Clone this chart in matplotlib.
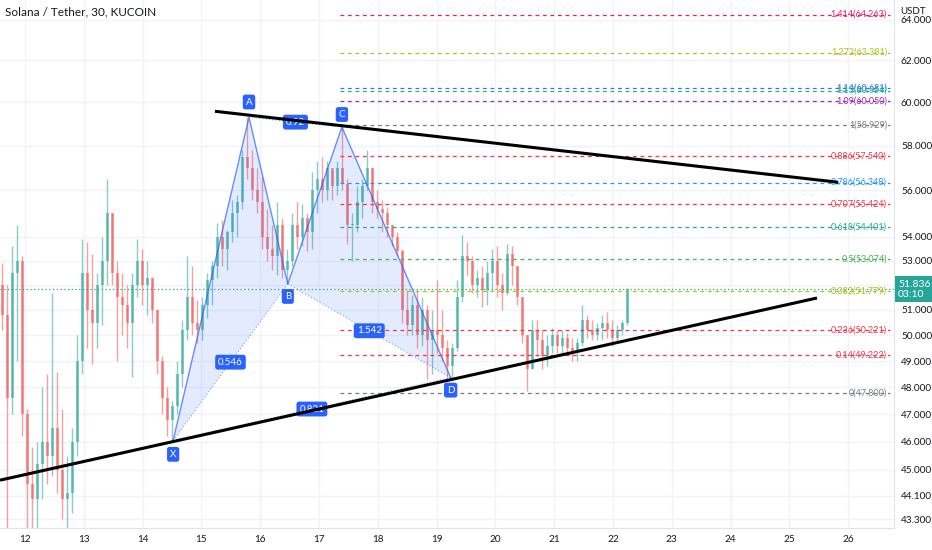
import numpy as np
import matplotlib
matplotlib.use('Agg')
import matplotlib.pyplot as plt
from matplotlib.ticker import FixedLocator, FixedFormatter, NullLocator, NullFormatter

plt.rcParams['font.family'] = ['Lato', 'DejaVu Sans']

################################################################################################
# ~2-hour candles (SOL/USDT, KuCoin)

t0 = 11.575
dt = 0.085
first_open = 52.0
closes = [50.8, 47.6, 52.5, 53.0, 47.0, 44.5, 44.0, 45.2, 46.0, 45.5,
          46.5, 45.0, 44.0, 44.2, 46.0, 49.0, 52.5, 51.0, 50.5, 52.0,
          53.0, 55.0, 52.5, 51.5, 51.2, 50.5, 52.0, 53.0, 52.0, 52.3,
          51.0, 49.0, 47.6, 46.8, 47.3, 48.5, 50.2, 51.5, 50.5, 50.2,
          51.2, 52.2, 52.8, 54.0, 53.5, 54.2, 55.0, 55.5, 57.5, 57.0,
          56.0, 55.5, 54.0, 53.5, 53.2, 54.5, 52.6, 53.0, 54.5, 54.0,
          54.8, 54.2, 56.0, 56.5, 56.0, 57.0, 56.2, 57.0, 56.3, 54.5,
          54.5, 55.5, 56.2, 57.0, 55.5, 55.2, 55.0, 54.5, 54.0, 53.4,
          51.0, 50.4, 51.2, 50.0, 51.0, 49.8, 50.2, 50.0, 49.5, 48.8,
          49.5, 51.5, 53.2, 53.0, 52.0, 52.3, 51.8, 52.5, 53.0, 52.0,
          51.7, 53.3, 52.8, 51.5, 50.0, 48.7, 50.2, 49.8, 49.2, 49.6,
          50.0, 49.6, 49.9, 49.5, 49.4, 49.7, 50.6, 50.2, 50.0, 50.3,
          50.5, 50.2, 49.9, 50.2, 50.5, 51.836]
highs = [52.9, 52.0, 53.6, 54.5, 53.2, 47.2, 45.8, 46.0, 48.0, 48.5,
         51.7, 48.6, 47.2, 45.5, 46.5, 50.0, 53.9, 53.8, 53.3, 52.5,
         54.0, 56.5, 55.0, 53.0, 52.5, 52.0, 52.5, 53.9, 53.5, 53.0,
         52.3, 51.0, 49.2, 48.0, 47.5, 49.0, 50.6, 53.2, 52.8, 51.4,
         51.5, 52.5, 53.0, 54.6, 54.7, 54.3, 55.6, 55.8, 57.8, 59.3,
         57.8, 57.0, 56.6, 55.2, 54.5, 55.5, 54.8, 53.5, 55.0, 55.5,
         55.4, 55.0, 56.8, 57.3, 57.5, 57.3, 56.9, 57.3, 58.85, 56.5,
         55.0, 56.2, 56.5, 57.8, 57.0, 56.0, 55.6, 55.3, 54.5, 54.2,
         53.5, 51.8, 51.6, 51.8, 51.5, 51.2, 51.0, 52.2, 51.0, 49.8,
         49.7, 52.2, 54.1, 53.8, 53.2, 52.6, 52.8, 53.0, 53.5, 53.6,
         52.5, 53.7, 53.6, 52.8, 51.5, 50.0, 50.6, 50.6, 50.2, 50.0,
         50.3, 50.2, 50.2, 50.1, 49.9, 49.9, 51.2, 50.8, 50.6, 50.5,
         50.8, 50.9, 50.6, 50.4, 50.6, 51.9]
lows = [50.2, 42.8, 47.0, 49.0, 46.2, 42.8, 42.8, 42.8, 44.0, 44.5,
        44.8, 44.2, 43.3, 42.8, 43.5, 45.5, 48.5, 49.5, 48.9, 49.5,
        50.4, 52.0, 52.0, 49.0, 50.0, 49.5, 48.4, 51.5, 51.2, 50.8,
        50.5, 48.5, 47.0, 46.2, 46.05, 47.0, 48.0, 49.8, 50.0, 49.7,
        49.8, 50.7, 51.2, 52.3, 52.8, 52.6, 53.8, 54.0, 55.2, 56.5,
        55.6, 55.0, 53.5, 53.0, 52.6, 52.4, 52.3, 52.05, 52.8, 53.5,
        53.6, 53.4, 53.5, 55.0, 55.5, 55.6, 55.6, 55.8, 56.0, 53.7,
        53.0, 54.2, 54.8, 56.0, 55.0, 54.8, 54.2, 54.0, 53.6, 53.2,
        50.5, 50.0, 50.0, 49.5, 49.6, 48.3, 48.5, 49.3, 49.0, 48.37,
        48.4, 49.4, 51.3, 52.4, 51.7, 51.5, 51.1, 51.2, 51.8, 51.5,
        51.0, 51.6, 52.0, 51.2, 49.7, 47.85, 48.7, 49.2, 48.7, 48.8,
        49.3, 49.3, 49.3, 49.3, 49.0, 49.0, 49.6, 49.9, 49.8, 49.8,
        49.8, 49.9, 49.6, 49.7, 50.0, 50.4]

# harmonic pattern points (day, price)
pat_names = ['X', 'A', 'B', 'C', 'D']
pat_t = [14.52, 15.81, 16.47, 17.39, 19.24]
pat_p = [46.05, 59.3, 52.05, 58.85, 48.37]
ratio_labels = ['0.546', '0.92', '1.542', '0.821']   # XB, AC, BD, XD

# fib levels (log) from 47.800 to 58.929
fib_levels = ['1.414', '1.272', '1.14', '1.13', '1.09', '1', '0.886', '0.786',
              '0.707', '0.618', '0.5', '0.382', '0.236', '0.14', '0']
fib_prices = [64.263, 62.381, 60.681, 60.554, 60.050, 58.929, 57.540, 56.348,
              55.424, 54.401, 53.074, 51.779, 50.221, 49.222, 47.800]
fib_colors = ['#e91e63', '#a8c31d', '#3f6fe8', '#1eb0a0', '#9c27b0', '#787b86', '#f23645', '#2196f3',
              '#f23645', '#22ab94', '#4caf50', '#a8c31d', '#f23645', '#f23645', '#787b86']

# trendlines
upper_t, upper_p = [15.23, 25.83], [59.58, 56.36]
lower_t, lower_p = [11.575, 25.47], [44.64, 51.48]

last_price = 51.836
y_ticks = [64, 62, 60, 58, 56, 54, 53, 52, 51, 50, 49, 48, 47, 46, 45, 44.1, 43.3]
x_days = list(range(12, 27))

################################################################################################

fig = plt.figure(figsize=(9.32, 5.5), dpi=100)
ax = fig.add_axes([0, 22/550, 894/932, 528/550])
ax.set_yscale('log')
ax.set_xlim(11.575, 26.78)
ax.set_ylim(43.0, 65.0)

ax.yaxis.set_major_locator(FixedLocator(y_ticks))
ax.yaxis.set_major_formatter(FixedFormatter(['%.3f' % v for v in y_ticks]))
ax.yaxis.set_minor_locator(NullLocator())
ax.yaxis.set_minor_formatter(NullFormatter())
ax.yaxis.tick_right()
ax.set_xticks(x_days)
ax.set_xticklabels([str(d) for d in x_days])
ax.tick_params(length=0, labelsize=7.2, labelcolor='#131722')
ax.tick_params(axis='y', pad=5)
ax.tick_params(axis='x', pad=5)
ax.grid(color='#f0f3fa', lw=1)
ax.set_axisbelow(True)
for s in ['top', 'left']:
    ax.spines[s].set_visible(False)
ax.spines['right'].set_color('#e0e3eb')
ax.spines['bottom'].set_color('#e0e3eb')

# candles
n = len(closes)
opens = [first_open] + closes[:-1]
tc = t0 + (np.arange(n) + 0.5)*dt
up = np.array(closes) >= np.array(opens)
cols = np.where(up, '#26a69a', '#ef5350')
ax.vlines(tc, lows, highs, colors=cols, lw=1, alpha=0.55, zorder=2)
body = np.abs(np.array(closes) - np.array(opens))
body = np.maximum(body, 0.04)
ax.bar(tc, body, bottom=np.minimum(opens, closes), width=0.045, color=cols, alpha=0.55, zorder=2)

# current price line
ax.axhline(last_price, color='#26a69a', lw=0.9, ls=(0, (1, 2)), zorder=3)
ax.annotate('%.3f\n03:10' % last_price, xy=(1.0, last_price), xycoords=('axes fraction', 'data'),
            xytext=(3, 0), textcoords='offset points', ha='left', va='center', fontsize=7.5,
            color='white', linespacing=1.1, annotation_clip=False,
            bbox=dict(boxstyle='square,pad=0.35', fc='#26a69a', ec='none'), zorder=10)

# harmonic pattern
ax.fill([pat_t[0], pat_t[1], pat_t[2]], [pat_p[0], pat_p[1], pat_p[2]], color='#2962ff', alpha=0.12, lw=0, zorder=3)
ax.fill([pat_t[2], pat_t[3], pat_t[4]], [pat_p[2], pat_p[3], pat_p[4]], color='#2962ff', alpha=0.12, lw=0, zorder=3)
ax.plot(pat_t, pat_p, color='#2962ff', lw=1, alpha=0.7, zorder=4)
pairs = [(0, 2), (1, 3), (2, 4), (0, 4)]
for (i, j), lab in zip(pairs, ratio_labels):
    ax.plot([pat_t[i], pat_t[j]], [pat_p[i], pat_p[j]], color='#2962ff', lw=0.8, alpha=0.6,
            ls=(0, (1, 2)), zorder=4)
    mt = (pat_t[i] + pat_t[j])/2
    mp = np.sqrt(pat_p[i]*pat_p[j])
    ax.text(mt, mp, lab, ha='center', va='center', fontsize=7, color='white', zorder=6,
            bbox=dict(boxstyle='round,pad=0.3,rounding_size=0.25', fc='#2962ff', ec='none'))

offsets = [-10, 11, -9, 9, -9]
for nm, t, p, dy in zip(pat_names, pat_t, pat_p, offsets):
    ax.annotate(nm, (t, p), xytext=(0, dy), textcoords='offset points', ha='center', va='center',
                fontsize=7, color='white', zorder=9,
                bbox=dict(boxstyle='round,pad=0.3,rounding_size=0.25', fc='#2962ff', ec='none'))

# fib retracement
for lv, pr, c in zip(fib_levels, fib_prices, fib_colors):
    ax.plot([17.36, 26.72], [pr, pr], color=c, lw=0.9, ls=(0, (3, 3)), zorder=5)
    ax.text(26.66, pr, '%s(%.3f)' % (lv, pr), ha='right', va='center', fontsize=6.5, color=c, zorder=5)

# trendlines
ax.plot(upper_t, upper_p, color='black', lw=2.2, zorder=7, solid_capstyle='butt')
ax.plot(lower_t, lower_p, color='black', lw=2.2, zorder=7, solid_capstyle='butt')

ax.text(0.006, 0.977, 'Solana / Tether, 30, KUCOIN', transform=ax.transAxes, fontsize=8.5,
        color='#131722', ha='left', va='center')
fig.text(900/932, 1 - 12/550, 'USDT', fontsize=7, color='#131722', ha='left', va='center')

fig.savefig('out.png', dpi=100, facecolor='white')
